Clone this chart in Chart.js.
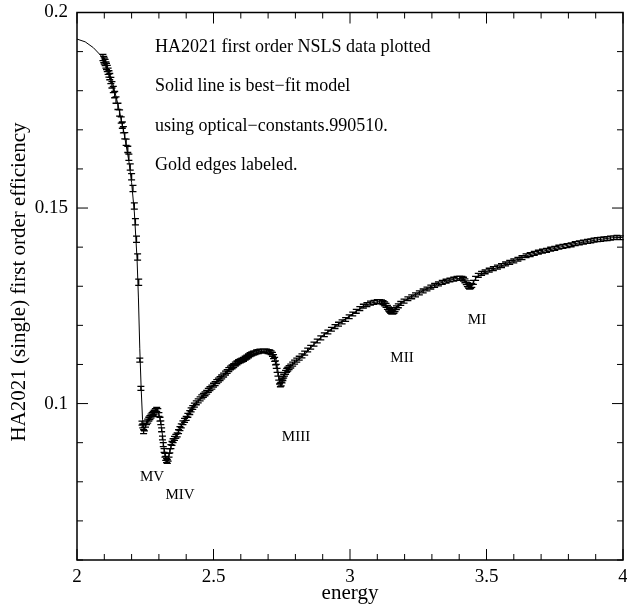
<!DOCTYPE html>
<html>
<head>
<meta charset="utf-8">
<script src="https://cdn.jsdelivr.net/npm/chart.js@4/dist/chart.umd.min.js"></script>
<style>
  html, body { margin: 0; padding: 0; background: #fff; }
  #wrap { width: 627px; height: 604px; }
</style>
</head>
<body>
<div id="wrap"><canvas id="effChart" width="627" height="604"></canvas></div>
<script>
// Best-fit model curve (solid line)
const modelEnergy = [2.00, 2.03, 2.06, 2.09, 2.11, 2.13, 2.15, 2.17, 2.19, 2.20, 2.21, 2.22, 2.225, 2.23, 2.235, 2.24,
  2.245, 2.255, 2.27, 2.285, 2.295, 2.305, 2.312, 2.318, 2.325, 2.33, 2.336, 2.345, 2.36, 2.38, 2.40, 2.42, 2.44,
  2.46, 2.48, 2.50, 2.52, 2.55, 2.58, 2.61, 2.64, 2.67, 2.70, 2.72, 2.73, 2.737, 2.745, 2.752, 2.76, 2.78, 2.80,
  2.83, 2.86, 2.90, 2.95, 3.00, 3.05, 3.08, 3.11, 3.13, 3.145, 3.155, 3.165, 3.18, 3.22, 3.26, 3.30, 3.35, 3.39,
  3.41, 3.425, 3.437, 3.447, 3.46, 3.48, 3.54, 3.60, 3.66, 3.72, 3.78, 3.84, 3.90, 3.96, 4.00];
const modelEff = [0.1932, 0.1925, 0.1910, 0.1888, 0.1862, 0.1822, 0.1765, 0.1700, 0.1620, 0.1565, 0.1490, 0.1370,
  0.1270, 0.1140, 0.1040, 0.0960, 0.0932, 0.0947, 0.0966, 0.0980, 0.0985, 0.0960, 0.0925, 0.0890, 0.0865, 0.0855,
  0.0865, 0.0890, 0.0913, 0.0940, 0.0963, 0.0986, 0.1003, 0.1019, 0.1033, 0.1047, 0.1060, 0.1080, 0.1100, 0.1113,
  0.1126, 0.1133, 0.1134, 0.1128, 0.1110, 0.1080, 0.1050, 0.1056, 0.1075, 0.1093, 0.1107, 0.1122, 0.1145, 0.1174,
  0.1200, 0.1225, 0.1249, 0.1258, 0.1261, 0.1252, 0.1240, 0.1234, 0.1240, 0.1254, 0.1272, 0.1286, 0.1300, 0.1313,
  0.1320, 0.1320, 0.1310, 0.1299, 0.1303, 0.1320, 0.1332, 0.1348, 0.1365, 0.1381, 0.1392, 0.1402, 0.1411, 0.1418,
  0.1424, 0.1425];

// Measured points (drawn with error bars)
const dataEnergy = [2.095, 2.098, 2.100, 2.103, 2.106, 2.108, 2.111, 2.114, 2.117, 2.120, 2.124, 2.128, 2.133, 2.138,
  2.143, 2.150, 2.156, 2.162, 2.166, 2.170, 2.175, 2.180, 2.186, 2.190, 2.195, 2.200, 2.205, 2.210, 2.214, 2.218,
  2.222, 2.226, 2.230, 2.234, 2.238, 2.241, 2.244, 2.247, 2.251, 2.255, 2.259, 2.263, 2.267, 2.271, 2.275, 2.279,
  2.283, 2.287, 2.292, 2.296, 2.300, 2.304, 2.307, 2.310, 2.313, 2.316, 2.319, 2.322, 2.325, 2.328, 2.331, 2.334,
  2.337, 2.340, 2.344, 2.348, 2.352, 2.357, 2.362, 2.367, 2.372, 2.377, 2.382, 2.388, 2.394, 2.400, 2.406, 2.413,
  2.418, 2.424, 2.430, 2.437, 2.444, 2.451, 2.457, 2.463, 2.469, 2.475, 2.481, 2.487, 2.494, 2.500, 2.506, 2.512,
  2.518, 2.524, 2.530, 2.537, 2.544, 2.550, 2.556, 2.562, 2.568, 2.574, 2.580, 2.586, 2.592, 2.598, 2.604, 2.610,
  2.616, 2.622, 2.628, 2.634, 2.640, 2.646, 2.652, 2.658, 2.664, 2.670, 2.676, 2.682, 2.688, 2.694, 2.700, 2.706,
  2.711, 2.716, 2.720, 2.724, 2.727, 2.730, 2.733, 2.736, 2.739, 2.742, 2.745, 2.748, 2.751, 2.754, 2.757, 2.760,
  2.764, 2.768, 2.772, 2.777, 2.783, 2.790, 2.797, 2.805, 2.814, 2.824, 2.834, 2.845, 2.856, 2.868, 2.880, 2.893,
  2.906, 2.919, 2.932, 2.945, 2.958, 2.971, 2.984, 2.997, 3.010, 3.023, 3.036, 3.049, 3.062, 3.075, 3.088, 3.100,
  3.108, 3.115, 3.121, 3.127, 3.132, 3.137, 3.141, 3.145, 3.149, 3.153, 3.157, 3.161, 3.165, 3.170, 3.177, 3.186,
  3.198, 3.212, 3.226, 3.240, 3.254, 3.268, 3.282, 3.296, 3.310, 3.324, 3.338, 3.352, 3.366, 3.380, 3.392, 3.402,
  3.410, 3.416, 3.421, 3.426, 3.430, 3.434, 3.438, 3.442, 3.446, 3.452, 3.460, 3.470, 3.482, 3.495, 3.510, 3.525,
  3.540, 3.555, 3.570, 3.585, 3.600, 3.615, 3.630, 3.645, 3.660, 3.675, 3.690, 3.705, 3.720, 3.735, 3.750, 3.765,
  3.780, 3.795, 3.810, 3.825, 3.840, 3.855, 3.870, 3.882, 3.894, 3.906, 3.918, 3.930, 3.942, 3.954, 3.966, 3.978, 3.990];
const dataEff = [0.1885, 0.1880, 0.1876, 0.1872, 0.1866, 0.1862, 0.1857, 0.1850, 0.1843, 0.1836, 0.1826, 0.1815,
  0.1803, 0.1790, 0.1776, 0.1760, 0.1743, 0.1725, 0.1712, 0.1700, 0.1685, 0.1668, 0.1650, 0.1630, 0.1605, 0.1580,
  0.1550, 0.1505, 0.1465, 0.1420, 0.1375, 0.1310, 0.1111, 0.1039, 0.0950, 0.0943, 0.0928, 0.0935, 0.0945, 0.0951,
  0.0955, 0.0960, 0.0964, 0.0968, 0.0972, 0.0975, 0.0978, 0.0982, 0.0985, 0.0982, 0.0972, 0.0960, 0.0951, 0.0933,
  0.0912, 0.0895, 0.0880, 0.0868, 0.0860, 0.0854, 0.0852, 0.0858, 0.0868, 0.0879, 0.0890, 0.0898, 0.0905, 0.0911,
  0.0916, 0.0920, 0.0928, 0.0936, 0.0943, 0.0951, 0.0957, 0.0962, 0.0970, 0.0977, 0.0984, 0.0990, 0.0996, 0.1002,
  0.1007, 0.1012, 0.1017, 0.1021, 0.1025, 0.1029, 0.1034, 0.1038, 0.1042, 0.1047, 0.1051, 0.1056, 0.1060, 0.1064,
  0.1068, 0.1073, 0.1078, 0.1082, 0.1087, 0.1091, 0.1094, 0.1097, 0.1101, 0.1104, 0.1107, 0.1109, 0.1111, 0.1113,
  0.1116, 0.1119, 0.1122, 0.1125, 0.1127, 0.1129, 0.1130, 0.1132, 0.1133, 0.1134, 0.1134, 0.1135, 0.1135, 0.1134,
  0.1133, 0.1132, 0.1130, 0.1126, 0.1120, 0.1113, 0.1104, 0.1095, 0.1085, 0.1075, 0.1065, 0.1055, 0.1048, 0.1050,
  0.1058, 0.1064, 0.1070, 0.1075, 0.1080, 0.1085, 0.1088, 0.1092, 0.1096, 0.1101, 0.1106, 0.1111, 0.1116, 0.1122,
  0.1129, 0.1137, 0.1144, 0.1152, 0.1160, 0.1168, 0.1176, 0.1183, 0.1190, 0.1197, 0.1203, 0.1209, 0.1215, 0.1222,
  0.1229, 0.1236, 0.1243, 0.1249, 0.1253, 0.1257, 0.1259, 0.1261, 0.1261, 0.1260, 0.1258, 0.1255, 0.1251, 0.1246,
  0.1242, 0.1239, 0.1236, 0.1234, 0.1234, 0.1236, 0.1240, 0.1245, 0.1250, 0.1256, 0.1262, 0.1268, 0.1273, 0.1278,
  0.1283, 0.1288, 0.1293, 0.1298, 0.1302, 0.1306, 0.1310, 0.1313, 0.1316, 0.1318, 0.1320, 0.1321, 0.1320, 0.1318,
  0.1314, 0.1309, 0.1304, 0.1300, 0.1298, 0.1299, 0.1302, 0.1310, 0.1320, 0.1328, 0.1333, 0.1337, 0.1341, 0.1345,
  0.1349, 0.1353, 0.1357, 0.1361, 0.1365, 0.1369, 0.1373, 0.1378, 0.1381, 0.1384, 0.1387, 0.1390, 0.1392, 0.1395,
  0.1397, 0.1400, 0.1402, 0.1404, 0.1406, 0.1409, 0.1411, 0.1413, 0.1415, 0.1416, 0.1418, 0.1419, 0.1420, 0.1421,
  0.1422, 0.1423, 0.1424, 0.1425, 0.1424];
// error bar half-heights, read per energy band: [from, to, err]
const errorBands = [[2.0, 2.229, 0.0008], [2.229, 4.0, 0.0005]];

const xMajorTicks = [2, 2.5, 3, 3.5, 4];
const xTickLabels = ['2', '2.5', '3', '3.5', '4'];
const xMinorTicks = [2.1, 2.2, 2.3, 2.4, 2.6, 2.7, 2.8, 2.9, 3.1, 3.2, 3.3, 3.4, 3.6, 3.7, 3.8, 3.9];
const yMajorTicks = [0.1, 0.15, 0.2];
const yTickLabels = ['0.1', '0.15', '0.2'];
const yMinorTicks = [0.06, 0.07, 0.08, 0.09, 0.11, 0.12, 0.13, 0.14, 0.16, 0.17, 0.18, 0.19];

const noteLines = ['HA2021 first order NSLS data plotted', 'Solid line is best\u2212fit model',
  'using optical\u2212constants.990510.', 'Gold edges labeled.'];
const edgeLabels = ['MV', 'MIV', 'MIII', 'MII', 'MI'];
const edgeLabelPos = [[152, 477], [180, 495], [296, 437], [402, 358], [477, 320]];

const SERIF = '"Liberation Serif", "DejaVu Serif", serif';

function errFor(e) {
  for (const b of errorBands) if (e >= b[0] && e < b[1]) return b[2];
  return 0.0005;
}

// Draw frame, ticks, labels, error bars and annotations in the PGPLOT manner
const pgplotLook = {
  id: 'pgplotLook',
  afterDatasetsDraw(chart) {
    const ctx = chart.ctx;
    const xs = chart.scales.x, ys = chart.scales.y;
    const a = chart.chartArea;
    ctx.save();
    ctx.strokeStyle = '#000';
    ctx.fillStyle = '#000';

    // error bars
    ctx.lineWidth = 1.3;
    ctx.beginPath();
    for (let i = 0; i < dataEnergy.length; i++) {
      const px = xs.getPixelForValue(dataEnergy[i]);
      const err = errFor(dataEnergy[i]);
      const yt = ys.getPixelForValue(dataEff[i] + err);
      const yb = ys.getPixelForValue(dataEff[i] - err);
      ctx.moveTo(px, yt); ctx.lineTo(px, yb);
      ctx.moveTo(px - 3.5, yt); ctx.lineTo(px + 3.5, yt);
      ctx.moveTo(px - 3.5, yb); ctx.lineTo(px + 3.5, yb);
    }
    ctx.stroke();

    // frame
    ctx.lineWidth = 1.5;
    ctx.strokeRect(a.left, a.top, a.right - a.left, a.bottom - a.top);

    // ticks on all four sides
    ctx.lineWidth = 1;
    ctx.beginPath();
    const xTick = (v, len) => {
      const px = xs.getPixelForValue(v);
      ctx.moveTo(px, a.bottom); ctx.lineTo(px, a.bottom - len);
      ctx.moveTo(px, a.top); ctx.lineTo(px, a.top + len);
    };
    const yTick = (v, len) => {
      const py = ys.getPixelForValue(v);
      ctx.moveTo(a.left, py); ctx.lineTo(a.left + len, py);
      ctx.moveTo(a.right, py); ctx.lineTo(a.right - len, py);
    };
    xMajorTicks.forEach(v => xTick(v, 11));
    xMinorTicks.forEach(v => xTick(v, 6));
    yMajorTicks.forEach(v => yTick(v, 11));
    yMinorTicks.forEach(v => yTick(v, 6));
    ctx.stroke();

    // tick labels
    ctx.font = '19px ' + SERIF;
    ctx.textBaseline = 'middle';
    ctx.textAlign = 'center';
    xMajorTicks.forEach((v, i) => ctx.fillText(xTickLabels[i], xs.getPixelForValue(v), a.bottom + 17));
    ctx.textAlign = 'right';
    yMajorTicks.forEach((v, i) => ctx.fillText(yTickLabels[i], a.left - 9, ys.getPixelForValue(v)));

    // axis titles
    ctx.font = '21px ' + SERIF;
    ctx.textAlign = 'center';
    ctx.fillText('energy', (a.left + a.right) / 2, a.bottom + 33);
    ctx.save();
    ctx.translate(19, 282);
    ctx.rotate(-Math.PI / 2);
    ctx.fillText('HA2021 (single) first order efficiency', 0, 0);
    ctx.restore();

    // notes
    ctx.font = '18px ' + SERIF;
    ctx.textAlign = 'left';
    noteLines.forEach((t, i) => ctx.fillText(t, 155, 47 + i * 39.5));

    // gold edge labels
    ctx.font = '15px ' + SERIF;
    ctx.textAlign = 'center';
    edgeLabels.forEach((t, i) => ctx.fillText(t, edgeLabelPos[i][0], edgeLabelPos[i][1]));
    ctx.restore();
  }
};

const ctx = document.getElementById('effChart').getContext('2d');
const chart = new Chart(ctx, {
  type: 'scatter',
  data: {
    datasets: [
      {
        label: 'model',
        data: modelEnergy.map((e, i) => ({ x: e, y: modelEff[i] })),
        showLine: true,
        borderColor: '#000',
        borderWidth: 1,
        pointRadius: 0,
        tension: 0
      },
      {
        label: 'data',
        data: dataEnergy.map((e, i) => ({ x: e, y: dataEff[i] })),
        showLine: false,
        pointRadius: 0
      }
    ]
  },
  plugins: [pgplotLook],
  options: {
    responsive: false,
    animation: false,
    devicePixelRatio: 1,
    layout: { padding: { left: 77, right: 4, top: 12.5, bottom: 44 } },
    plugins: { legend: { display: false }, tooltip: { enabled: false } },
    scales: {
      x: { type: 'linear', min: 2, max: 4, display: false },
      y: { type: 'linear', min: 0.06, max: 0.2, display: false }
    }
  }
});
</script>
</body>
</html>
